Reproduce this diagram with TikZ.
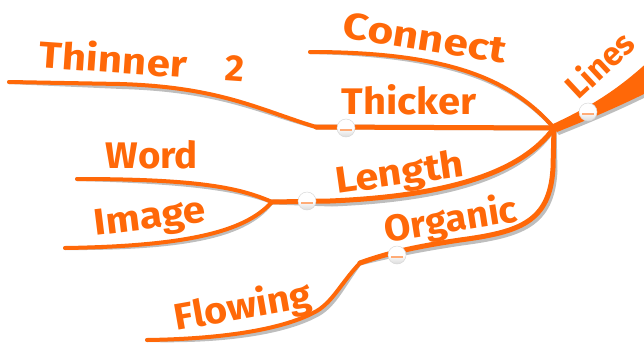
\documentclass[tikz,border=0pt]{standalone}
\usepackage{fontspec}
\setmainfont{Fira Sans}
\definecolor{mmorange}{RGB}{255,104,8}
\definecolor{mmshadow}{RGB}{190,190,190}
\tikzset{
  branch/.style={draw=mmorange, line cap=round, line join=round},
  shadowline/.style={draw=mmshadow, line cap=round, line join=round},
  lbl/.style={text=mmorange, font=\fontsize{37}{40}\selectfont\bfseries, inner sep=0pt},
  bubble/.style={circle, minimum size=18pt, inner sep=0pt, draw=mmshadow!60, line width=0.5pt,
    top color=white, bottom color=mmshadow!55, middle color=white, path picture={
      \fill[mmorange!55] ([xshift=-6pt,yshift=-0.5pt]path picture bounding box.center) rectangle ([xshift=6pt,yshift=-3pt]path picture bounding box.center);}},
}
\begin{document}
\begin{tikzpicture}[x=1pt,y=-1pt]
\useasboundingbox (0,0) rectangle (644,343);
% key points
\coordinate (hub) at (554,128);
\coordinate (thinS) at (9,82);
\coordinate (thinE) at (316,127);
\coordinate (conS) at (310,52);
\coordinate (jn) at (272,202);
\coordinate (wordS) at (77,179);
\coordinate (imgS) at (65,248);
\coordinate (kink) at (360,263);
\coordinate (flowS) at (147,340);
% paths
\newcommand{\pThin}{(thinS) -- (120,84) .. controls (220,87) and (260,110) .. (thinE)}
\newcommand{\pThick}{(thinE) -- (hub)}
\newcommand{\pCon}{(conS) .. controls (450,52) and (512,80) .. (hub)}
\newcommand{\pLin}{(551,125) .. controls (585,109) and (615,93) .. (652,58) -- (652,90) .. controls (620,106) and (592,118) .. (557,132) -- cycle}
\newcommand{\pLen}{(jn) -- (330,201) .. controls (450,196) and (522,172) .. (hub)}
\newcommand{\pWord}{(wordS) .. controls (200,179) and (240,188) .. (jn)}
\newcommand{\pImg}{(imgS) .. controls (200,246) and (248,228) .. (jn)}
\newcommand{\pOrg}{(hub) -- (553,168) .. controls (550,222) and (520,232) .. (460,240) .. controls (420,246) and (390,252) .. (kink)}
\newcommand{\pFlow}{(kink) .. controls (340,284) and (332,304) .. (313,313) .. controls (280,330) and (220,339) .. (flowS)}
% shadows
\begin{scope}[shift={(2,3)}]
  \draw[shadowline, line width=4pt] \pThin;
  \draw[shadowline, line width=5pt] \pThick;
  \draw[shadowline, line width=4pt] \pCon;
  \fill[mmshadow] \pLin;
  \draw[shadowline, line width=5pt] \pLen;
  \draw[shadowline, line width=4pt] \pWord;
  \draw[shadowline, line width=4pt] \pImg;
  \draw[shadowline, line width=5pt] \pOrg;
  \draw[shadowline, line width=4pt] \pFlow;
\end{scope}
% orange lines
\draw[branch, line width=4pt] \pThin;
\draw[branch, line width=5pt] \pThick;
\draw[branch, line width=4pt] \pCon;
\fill[mmorange] \pLin;
\draw[branch, line width=5pt] \pLen;
\draw[branch, line width=4pt] \pWord;
\draw[branch, line width=4pt] \pImg;
\draw[branch, line width=5pt] \pOrg;
\draw[branch, line width=4pt] \pFlow;
% bubbles
\node[bubble] (b1) at (346,128) {};
\node[bubble] (b2) at (307,201) {};
\node[bubble] (b3) at (397,255) {};
\node[bubble] (b4) at (588,112) {};
% labels
\node[lbl, rotate=-4] (tThin) at (142,60) {\scalebox{1.14}[1]{Thinner}\hspace{38pt}2};
\node[lbl, rotate=-9] (tCon) at (425,38) {\scalebox{1.2}[1]{Connect}};
\node[lbl] (tThick) at (409,100) {\scalebox{1.08}[1]{Thicker}};
\node[lbl, rotate=43, font=\fontsize{33}{36}\selectfont\bfseries] (tLin) at (599,64) {Lines};
\node[lbl] (tWord) at (152,155) {\scalebox{1.04}[1]{Word}};
\node[lbl, rotate=7] (tImg) at (150,220) {\scalebox{1.1}[1]{Image}};
\node[lbl, rotate=8] (tLen) at (400,175) {\scalebox{1.12}[1]{Length}};
\node[lbl, rotate=9] (tOrg) at (451,221) {\scalebox{1.04}[1]{Organic}};
\node[lbl, rotate=10] (tFlow) at (243,308) {\scalebox{1.07}[1]{Flowing}};
\end{tikzpicture}
\end{document}
